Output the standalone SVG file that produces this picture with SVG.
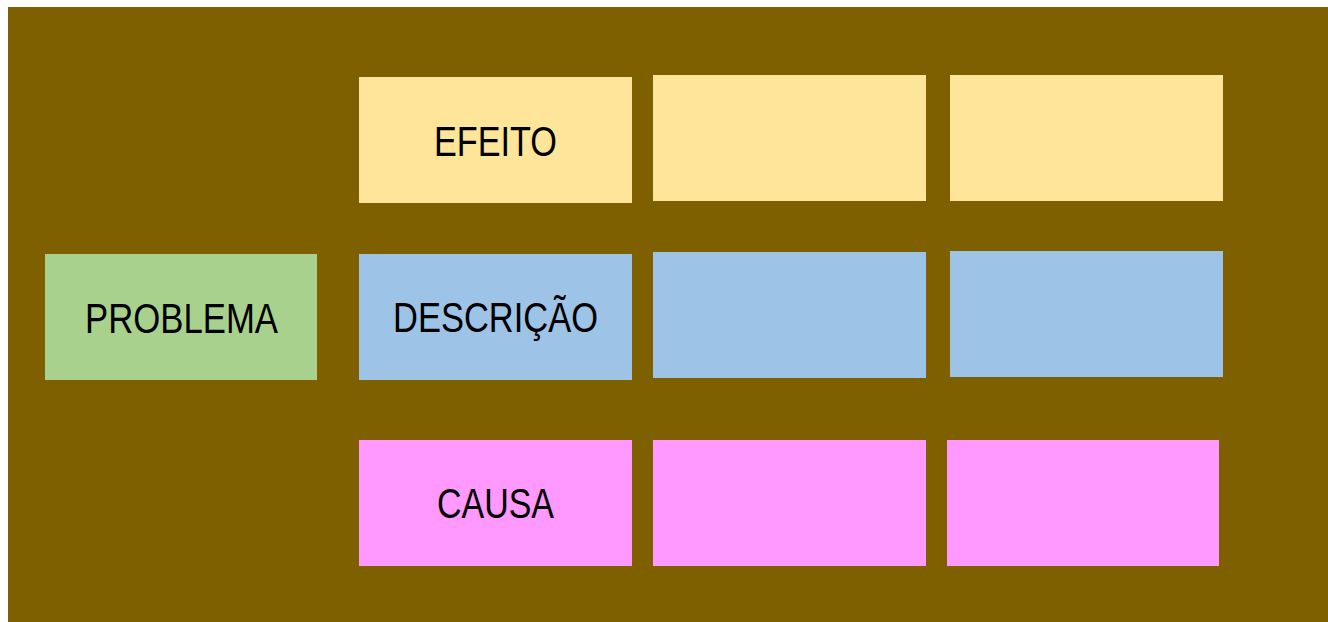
<svg xmlns="http://www.w3.org/2000/svg" width="1328" height="622" viewBox="0 0 1328 622">
<style>
.lbl{font-family:"Liberation Sans",Arial,sans-serif;font-size:43px;fill:#000;}
.y{fill:#ffe599}.b{fill:#9dc3e6}.p{fill:#ff99ff}.g{fill:#a9d18e}
</style>
<rect x="0" y="0" width="1328" height="622" fill="#ffffff"/>
<rect x="8" y="7" width="1320" height="615" fill="#7f6000"/>
<g id="problema"><rect class="g" x="45" y="254" width="272" height="126"/><text class="lbl" x="85" y="333" textLength="193" lengthAdjust="spacingAndGlyphs">PROBLEMA</text></g>
<g id="efeito"><rect class="y" x="359" y="77" width="273" height="126"/><text class="lbl" x="434" y="156" textLength="123" lengthAdjust="spacingAndGlyphs">EFEITO</text></g>
<g id="efeito2"><rect class="y" x="653" y="75" width="273" height="126"/></g>
<g id="efeito3"><rect class="y" x="950" y="75" width="273" height="126"/></g>
<g id="descricao"><rect class="b" x="359" y="254" width="273" height="126"/><text class="lbl" x="393" y="332" textLength="205" lengthAdjust="spacingAndGlyphs">DESCRIÇÃO</text></g>
<g id="descricao2"><rect class="b" x="653" y="252" width="273" height="126"/></g>
<g id="descricao3"><rect class="b" x="950" y="251" width="273" height="126"/></g>
<g id="causa"><rect class="p" x="359" y="440" width="273" height="126"/><text class="lbl" x="437" y="518" textLength="117" lengthAdjust="spacingAndGlyphs">CAUSA</text></g>
<g id="causa2"><rect class="p" x="653" y="440" width="273" height="126"/></g>
<g id="causa3"><rect class="p" x="947" y="440" width="272" height="126"/></g>
<g id="connectors"></g>
</svg>
